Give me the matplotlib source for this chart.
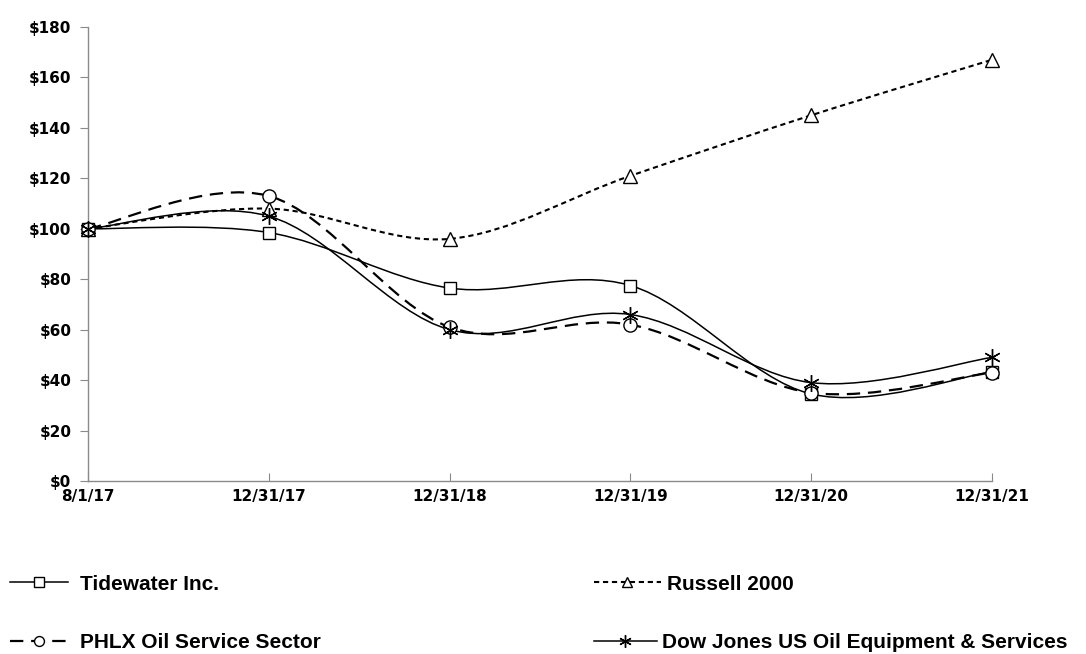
import numpy as np
import matplotlib
matplotlib.use("Agg")
import matplotlib.pyplot as plt
from matplotlib.path import Path
from matplotlib.patches import PathPatch
from matplotlib.lines import Line2D

plt.rcParams['font.family'] = ['Liberation Sans', 'DejaVu Sans']

# ---------------------------------------------------------------
# data
# ---------------------------------------------------------------
dates = ['8/1/17', '12/31/17', '12/31/18', '12/31/19', '12/31/20', '12/31/21']
tidewater = [100, 98.5, 76.5, 77.5, 34.5, 43.3]
russell = [100, 108, 96, 121, 145, 167]
phlx = [100, 113, 61, 62, 35, 43]
dowjones = [100, 105, 60, 66, 39, 49]
yticks = [0, 20, 40, 60, 80, 100, 120, 140, 160, 180]


def smooth_path(x, y, k=1/6):
    """Excel-style smoothed line as cubic Bezier segments."""
    pts = np.column_stack([x, y]).astype(float)
    n = len(pts)
    verts = [pts[0]]
    codes = [Path.MOVETO]
    for i in range(n - 1):
        p0 = pts[i - 1] if i > 0 else pts[i]
        p1, p2 = pts[i], pts[i + 1]
        p3 = pts[i + 2] if i + 2 < n else pts[i + 1]
        c1 = p1 + (p2 - p0) * k
        c2 = p2 - (p3 - p1) * k
        verts += [c1, c2, p2]
        codes += [Path.CURVE4] * 3
    return Path(verts, codes)


x = np.arange(len(dates))
# name, values, line style, marker style, legend (x px, y px, handle length, text pad)
series = [
    ('Tidewater Inc.', tidewater, dict(ls='-', lw=1.1), dict(marker='s', ms=9),
     (10, 584, 2.8, 0.55)),
    ('Russell 2000', russell, dict(ls=(0, (2.5, 1.8)), lw=1.5), dict(marker='^', ms=10),
     (594, 584, 3.2, 0.3)),
    ('PHLX Oil Service Sector', phlx, dict(ls=(0, (6, 3.5)), lw=1.6), dict(marker='o', ms=9.5),
     (10, 643, 2.8, 0.55)),
    ('Dow Jones US Oil Equipment & Services', dowjones, dict(ls='-', lw=1.1),
     dict(marker=(6, 2, 0), ms=12), (594, 643, 3.0, 0.25)),
]

fig = plt.figure(figsize=(10.86, 6.54), dpi=100)
ax = fig.add_axes([88 / 1086, 1 - 481 / 654, (992 - 88) / 1086, (481 - 27) / 654])

leg_font = {'family': ['Liberation Sans', 'DejaVu Sans'],
            'weight': 'bold', 'size': 15}
for name, vals, lst, mst, (lx, ly, hl, tp) in series:
    patch = PathPatch(smooth_path(x, vals), fill=False, edgecolor='black',
                      linestyle=lst['ls'], linewidth=lst['lw'], zorder=3)
    ax.add_patch(patch)
    ax.plot(x, vals, linestyle='none', marker=mst['marker'], ms=mst['ms'],
            mfc='white', mec='black', mew=1.0, zorder=4, clip_on=False)
    h = Line2D([], [], color='black', linestyle=lst['ls'], lw=lst['lw'],
               marker=mst['marker'], ms=mst['ms'] * 0.75, mfc='white',
               mec='black', mew=1.0)
    leg = fig.legend([h], [name], loc='center left',
                     bbox_to_anchor=(lx / 1086, 1 - ly / 654), frameon=False,
                     borderpad=0, borderaxespad=0, handlelength=hl,
                     handletextpad=tp, prop=leg_font)

ax.set_xlim(0, len(dates) - 1)
ax.set_ylim(0, 180)
ax.set_xticks(x)
ax.set_xticklabels(dates)
ax.set_yticks(yticks)
ax.set_yticklabels([f'${v}' for v in yticks])
for s in ['top', 'right']:
    ax.spines[s].set_visible(False)
for s in ['left', 'bottom']:
    ax.spines[s].set_color('#8a8a8a')
    ax.spines[s].set_linewidth(1.0)
ax.tick_params(axis='x', direction='in', length=6, color='#8a8a8a', pad=6)
ax.tick_params(axis='y', direction='out', length=6, color='#8a8a8a', pad=6)
for lab in ax.get_xticklabels() + ax.get_yticklabels():
    lab.set_fontfamily('DejaVu Sans')
    lab.set_fontweight('bold')
    lab.set_fontsize(11)

fig.savefig('out.png', dpi=100, facecolor='white')
